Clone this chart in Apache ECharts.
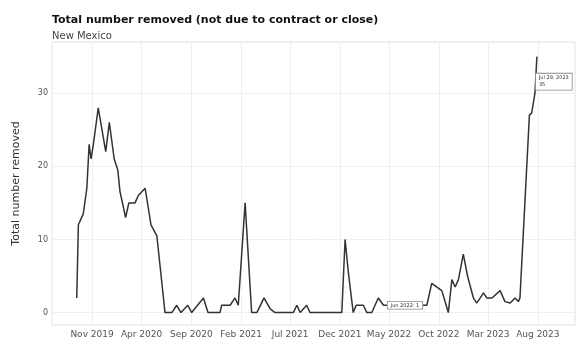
<!DOCTYPE html>
<html>
<head>
<meta charset="utf-8">
<script src="https://cdn.jsdelivr.net/npm/echarts@6/dist/echarts.min.js"></script>
<style>
  html, body { margin: 0; padding: 0; background: #fff; }
  #main { width: 578px; height: 339px; }
</style>
</head>
<body>
<div id="main"></div>
<script>
// values (vertices of the trace)
var dates = [
  '2019-09-15','2019-09-20','2019-10-05','2019-10-16','2019-10-23','2019-10-29','2019-11-05','2019-11-20','2019-12-13','2019-12-24',
  '2020-01-08','2020-01-19','2020-01-26','2020-02-12','2020-02-22','2020-03-12','2020-03-22','2020-04-12','2020-04-30','2020-05-18',
  '2020-06-12','2020-07-03','2020-07-18','2020-07-31','2020-08-21','2020-09-02','2020-10-08','2020-10-22','2020-11-28','2020-12-03',
  '2020-12-29','2021-01-13','2021-01-23','2021-02-13','2021-03-05','2021-03-21','2021-04-12','2021-05-01','2021-05-16','2021-07-11',
  '2021-07-22','2021-08-01','2021-08-21','2021-08-31','2021-12-07','2021-12-17','2021-12-27','2022-01-11','2022-01-20','2022-02-11',
  '2022-02-22','2022-03-09','2022-03-29','2022-04-14','2022-06-19','2022-08-09','2022-08-25','2022-09-09','2022-09-24','2022-10-10',
  '2022-10-30','2022-11-10','2022-11-20','2022-11-30','2022-12-15','2022-12-28','2023-01-15','2023-01-25','2023-02-05','2023-02-15',
  '2023-02-25','2023-03-13','2023-04-07','2023-04-22','2023-05-08','2023-05-23','2023-06-02','2023-06-07','2023-07-06','2023-07-13',
  '2023-07-23','2023-07-29'
];
var removed = [
  2, 12, 13.5, 17, 23, 21, 23, 28, 22, 26,
  21, 19.5, 16.5, 13, 15, 15, 16, 17, 12, 10.5,
  0, 0, 1, 0, 1, 0, 2, 0, 0, 1,
  1, 2, 1, 15, 0, 0, 2, 0.5, 0, 0,
  1, 0, 1, 0, 0, 10, 5.5, 0, 1, 1,
  0, 0, 2, 1, 1, 1, 1, 4, 3.5, 3,
  0, 4.5, 3.5, 4.5, 8, 5, 2, 1.3, 2, 2.7,
  2, 2, 3, 1.5, 1.3, 2, 1.5, 2, 27, 27.3,
  30, 35
];
var xTickDates = ['2019-11-01','2020-04-01','2020-09-01','2021-02-01','2021-07-01','2021-12-01','2022-05-01','2022-10-01','2023-03-01','2023-08-01'];
var yTicks = [0, 10, 20, 30];
var monthNames = ['Jan','Feb','Mar','Apr','May','Jun','Jul','Aug','Sep','Oct','Nov','Dec'];

// annotated points
var midNote = 54;
var endNote = dates.length - 1;

function ts(d) { return +echarts.number.parseDate(d); }

var seriesData = [];
for (var i = 0; i < dates.length; i++) {
  seriesData.push([ts(dates[i]), removed[i]]);
}
var xTicks = xTickDates.map(ts);

var noteLabel = {
  show: true,
  fontSize: 5,
  color: '#333',
  backgroundColor: '#fff',
  borderColor: '#888',
  borderWidth: 0.8,
  padding: [1, 3]
};

var chart = echarts.init(document.getElementById('main'));
chart.setOption({
  animation: false,
  textStyle: { fontFamily: 'DejaVu Sans' },
  title: {
    text: 'Total number removed (not due to contract or close)',
    subtext: 'New Mexico',
    left: 47,
    top: 10,
    itemGap: 5,
    textStyle: { fontSize: 11, fontWeight: 'bold', color: '#111', fontFamily: 'DejaVu Sans' },
    subtextStyle: { fontSize: 10, color: '#444', fontFamily: 'DejaVu Sans' }
  },
  grid: {
    left: 52, right: 3, top: 42, bottom: 14,
    show: true, borderColor: '#e2e2e2', borderWidth: 1
  },
  xAxis: {
    type: 'value',
    min: ts('2019-07-01'),
    max: ts('2023-11-23'),
    axisLine: { show: false },
    axisTick: { show: false, customValues: xTicks },
    axisLabel: {
      customValues: xTicks,
      hideOverlap: false,
      fontSize: 9,
      color: '#555',
      margin: 5,
      formatter: function (v) {
        var d = new Date(v);
        return monthNames[d.getMonth()] + ' ' + d.getFullYear();
      }
    },
    splitLine: { show: true, lineStyle: { color: '#efefef', width: 1 } }
  },
  yAxis: {
    type: 'value',
    min: -1.7,
    max: 37,
    name: 'Total number removed',
    nameLocation: 'middle',
    nameGap: 30,
    nameTextStyle: { fontSize: 11, color: '#333' },
    axisLine: { show: false },
    axisTick: { show: false, customValues: yTicks },
    axisLabel: { customValues: yTicks, fontSize: 8, color: '#555', margin: 4 },
    splitLine: { show: true, lineStyle: { color: '#efefef', width: 1 } }
  },
  series: [{
    type: 'line',
    data: seriesData,
    showSymbol: false,
    lineStyle: { color: '#333', width: 1.5 },
    markPoint: {
      symbol: 'circle',
      symbolSize: 0,
      data: [
        {
          coord: seriesData[midNote],
          label: Object.assign({}, noteLabel, {
            position: 'inside',
            formatter: 'Jun 2022: ' + removed[midNote]
          })
        },
        {
          coord: seriesData[endNote],
          label: Object.assign({}, noteLabel, {
            position: 'right',
            distance: 0,
            offset: [-1, 25],
            align: 'left',
            lineHeight: 7,
            formatter: 'Jul 29, 2023\n' + removed[endNote]
          })
        }
      ]
    }
  }]
});
</script>
</body>
</html>
